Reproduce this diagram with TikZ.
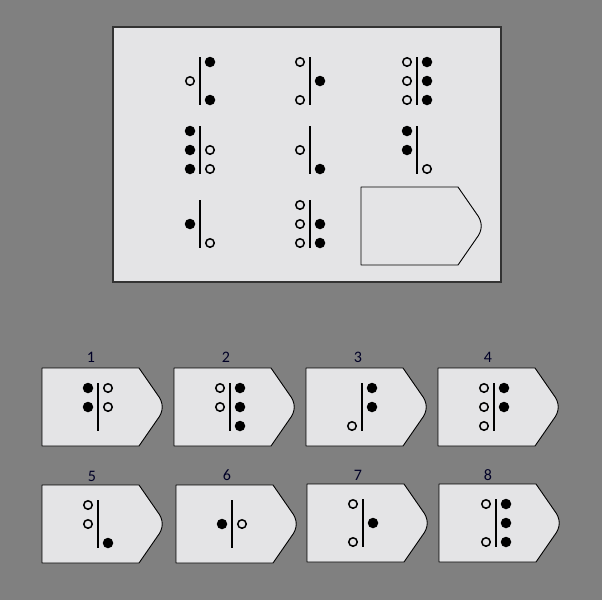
\documentclass[tikz,border=0pt]{standalone}
\usepackage{fontspec}
\newfontfamily\numfont{Carlito}
\usetikzlibrary{positioning}
\definecolor{bgGray}{HTML}{808080}
\definecolor{panelGray}{HTML}{E4E4E6}
\tikzset{
  full/.style={circle,fill=black,inner sep=0pt,minimum size=10.5pt},
  hollow/.style={circle,draw=black,fill=panelGray,line width=1.5pt,inner sep=0pt,minimum size=8.5pt},
  bar/.style={line width=2.3pt},
  tag/.style={draw=black,fill=panelGray,line width=0.9pt,line join=round},
  panel/.style={draw=black!80,fill=panelGray,line width=1.5pt},
  num/.style={font=\numfont\fontsize{16}{18}\selectfont,text=black!85!blue}
}
% one figure: bar at (#1,#2), dots as offset/row/style
\newcommand{\motif}[4]{%
  \draw[bar] (#1,#2-5) -- (#1,#2+43);
  \foreach \s/\r/\k [count=\i] in {#4}
    \node[\k] (#3-\i) at (#1+\s,#2+19*\r-19) {};
}
% answer card outline, top left corner at (#1,#2)
\newcommand{\tagcard}[2]{%
  \begin{scope}[shift={(#1,#2)}]
    \draw[tag] (0,0) -- (97,0) -- (115,26) .. controls (122,35) and (122,43) .. (115,52) -- (97,78) -- (0,78) -- cycle;
  \end{scope}
}

\begin{document}
\begin{tikzpicture}[x=1pt,y=-1pt]
\useasboundingbox (0,0) rectangle (602,600);
\fill[bgGray] (0,0) rectangle (602,600);

% the puzzle
\draw[panel] (113,27) rectangle (501,282);
\motif{200}{62}{p11}{10/1/full,-10/2/hollow,10/3/full}
\motif{310}{62}{p12}{-10/1/hollow,10/2/full,-10/3/hollow}
\motif{417}{62}{p13}{-10/1/hollow,-10/2/hollow,-10/3/hollow,10/1/full,10/2/full,10/3/full}
\motif{200}{131}{p21}{-10/1/full,-10/2/full,-10/3/full,10/2/hollow,10/3/hollow}
\motif{310}{131}{p22}{-10/2/hollow,10/3/full}
\motif{417}{131}{p23}{-10/1/full,-10/2/full,10/3/hollow}
\motif{200}{205}{p31}{-10/2/full,10/3/hollow}
\motif{310}{205}{p32}{-10/1/hollow,-10/2/hollow,-10/3/hollow,10/2/full,10/3/full}
\tagcard{361}{187}

% answers
\tagcard{42}{368}
\node[num] (n1) at (91,357) {1};
\motif{98}{388}{a1}{-10/1/full,-10/2/full,10/1/hollow,10/2/hollow}
\tagcard{174}{368}
\node[num] (n2) at (226,357) {2};
\motif{230}{388}{a2}{-10/1/hollow,-10/2/hollow,10/1/full,10/2/full,10/3/full}
\tagcard{306}{368}
\node[num] (n3) at (358,357) {3};
\motif{362}{388}{a3}{10/1/full,10/2/full,-10/3/hollow}
\tagcard{438}{368}
\node[num] (n4) at (488,357) {4};
\motif{494}{388}{a4}{-10/1/hollow,-10/2/hollow,-10/3/hollow,10/1/full,10/2/full}

\tagcard{42}{485}
\node[num] (n5) at (92,476) {5};
\motif{98}{505}{a5}{-10/1/hollow,-10/2/hollow,10/3/full}
\tagcard{176}{485}
\node[num] (n6) at (227,475) {6};
\motif{232}{505}{a6}{-10/2/full,10/2/hollow}
\tagcard{307}{484}
\node[num] (n7) at (358,475) {7};
\motif{363}{504}{a7}{-10/1/hollow,-10/3/hollow,10/2/full}
\tagcard{439}{484}
\node[num] (n8) at (488,475) {8};
\motif{496}{504}{a8}{-10/1/hollow,-10/3/hollow,10/1/full,10/2/full,10/3/full}
\end{tikzpicture}
\end{document}
